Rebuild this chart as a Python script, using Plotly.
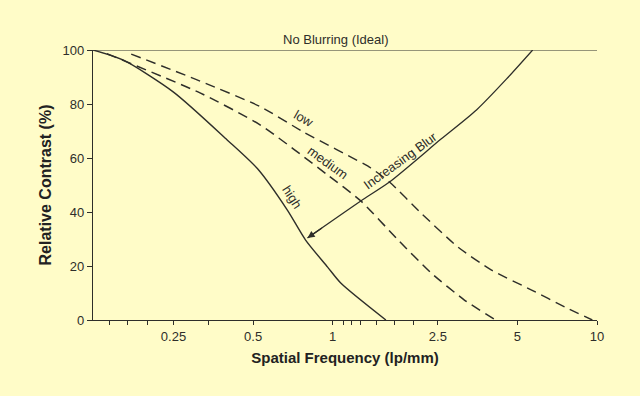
import numpy as np
import plotly.graph_objects as go

# ---- data ----
freq_ideal = [0.124, 10.0]
contrast_ideal = [100, 100]

freq_high = [0.124, 0.161, 0.25, 0.399, 0.52, 0.674, 0.79, 0.957, 1.073, 1.59]
contrast_high = [100, 96.3, 84.4, 66.7, 56, 40.7, 29.6, 19.6, 13.7, 0]

freq_medium = [0.14, 0.315, 0.533, 0.957, 1.278, 1.77, 2.36, 3.15, 4.13]
contrast_medium = [98.6, 84.1, 72.2, 53.7, 44.1, 29.6, 17.4, 7.4, 0]

freq_low = [0.173, 0.315, 0.533, 0.776, 1.395, 1.64, 2.16, 2.98, 3.99, 5.66, 7.57, 9.6]
contrast_low = [98.5, 88.5, 79, 69.6, 56.3, 51.1, 39.6, 27, 18.5, 11.1, 4.8, 0]

freq_blur_arrow = [5.71, 4.55, 3.50, 2.57, 1.64, 1.278, 0.803]
contrast_blur_arrow = [100, 89.3, 77.8, 67.0, 51.1, 44.1, 30.4]

major_ticks = [0.25, 0.5, 1, 2.5, 5, 10]
major_tick_labels = ["0.25", "0.5", "1", "2.5", "5", "10"]
minor_ticks = [0.143, 0.167, 0.2, 0.34, 1.1, 1.18, 1.27, 1.46, 1.72, 2.03]
y_ticks = [0, 20, 40, 60, 80, 100]

x_min, x_max = 0.124, 10.0

BG = "#FFFCC8"
INK = "#2e2e2a"
FONT = "Liberation Sans, Arial, Helvetica, sans-serif"

fig = go.Figure()

fig.add_trace(go.Scatter(x=freq_ideal, y=contrast_ideal, mode="lines",
                         line=dict(color=INK, width=1.2), cliponaxis=False, hoverinfo="skip"))
fig.add_trace(go.Scatter(x=freq_high, y=contrast_high, mode="lines",
                         line=dict(color=INK, width=1.4, shape="spline", smoothing=0.7),
                         cliponaxis=False, hoverinfo="skip"))
fig.add_trace(go.Scatter(x=freq_medium, y=contrast_medium, mode="lines",
                         line=dict(color=INK, width=1.5, dash="10px,6px", shape="spline", smoothing=0.6),
                         cliponaxis=False, hoverinfo="skip"))
fig.add_trace(go.Scatter(x=freq_low, y=contrast_low, mode="lines",
                         line=dict(color=INK, width=1.4, dash="10px,6px", shape="spline", smoothing=0.6),
                         cliponaxis=False, hoverinfo="skip"))
fig.add_trace(go.Scatter(x=freq_blur_arrow, y=contrast_blur_arrow, mode="lines",
                         line=dict(color=INK, width=1.3, shape="spline", smoothing=0.7),
                         cliponaxis=False, hoverinfo="skip"))

ann = []
# arrowhead at the end of the "Increasing Blur" curve
ann.append(dict(x=np.log10(freq_blur_arrow[-1]), y=contrast_blur_arrow[-1], xref="x", yref="y",
                text="", showarrow=True, arrowhead=2, arrowsize=1.1, arrowwidth=1.3,
                arrowcolor=INK, ax=16, ay=-11, standoff=0))
labels = [
    ("No Blurring (Ideal)", 1.03, 100, 0, "bottom", 13),
    ("low", 0.776, 74.8, 30, "middle", 13),
    ("medium", 0.957, 58.5, 36, "middle", 13),
    ("high", 0.705, 45.5, 57, "middle", 13),
    ("Increasing Blur", 1.81, 58.9, -36, "middle", 13),
]
for text, fx, fy, ang, ya, size in labels:
    ann.append(dict(x=np.log10(fx), y=fy, xref="x", yref="y", text=text, showarrow=False,
                    textangle=ang, yanchor=ya, yshift=1 if ya == "bottom" else 0,
                    font=dict(family=FONT, size=size, color=INK)))

fig.update_layout(
    width=640, height=396,
    paper_bgcolor=BG, plot_bgcolor=BG,
    margin=dict(l=93, r=43, t=50, b=76),
    showlegend=False,
    font=dict(family=FONT, color=INK, size=12),
    annotations=ann,
)
fig.update_xaxes(
    type="log", range=[np.log10(x_min), np.log10(x_max)],
    showgrid=False, zeroline=False, showline=True, linecolor=INK, linewidth=1.2,
    tickmode="array", tickvals=major_ticks, ticktext=major_tick_labels,
    ticks="outside", ticklen=4, tickwidth=1, tickcolor=INK,
    tickfont=dict(family=FONT, size=13, color=INK),
    minor=dict(tickmode="array", tickvals=minor_ticks, ticks="outside", ticklen=4,
               tickwidth=1, tickcolor=INK, showgrid=False),
    title=dict(text="<b>Spatial Frequency (lp/mm)</b>", standoff=9,
               font=dict(family=FONT, size=15, color="#222")),
)
fig.update_yaxes(
    range=[0, 100], showgrid=False, zeroline=False, showline=True, linecolor=INK, linewidth=1.2,
    tickmode="array", tickvals=y_ticks,
    ticks="outside", ticklen=5, tickwidth=1, tickcolor=INK,
    tickfont=dict(family=FONT, size=13, color=INK),
    title=dict(text="<b>Relative Contrast (%)</b>", standoff=6,
               font=dict(family=FONT, size=16, color="#222")),
)

fig.write_html("out.html", config={"displayModeBar": False, "staticPlot": True},
               post_script="document.body.style.margin='0px';")
